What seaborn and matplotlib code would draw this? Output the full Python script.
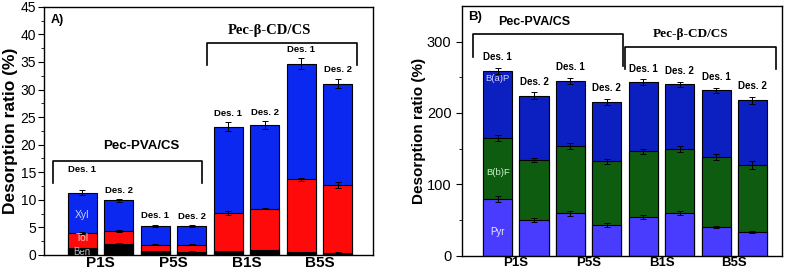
import numpy as np
import pandas as pd
import matplotlib
matplotlib.use("Agg")
import matplotlib.pyplot as plt
import seaborn as sns

# ---- data ----
groups = ['P1S', 'P5S', 'B1S', 'B5S']
des_labels = ['Des. 1', 'Des. 2'] * 4

# panel A: BTEX-like (stacked segments)
ben = [1.2, 2.0, 0.65, 0.6, 0.65, 0.9, 0.5, 0.45]
tol = [2.8, 2.4, 1.25, 1.3, 7.0, 7.5, 13.25, 12.25]
xyl = [7.3, 5.55, 3.4, 3.3, 15.65, 15.15, 20.95, 18.4]
ben_err = [0.1, 0.1, 0.05, 0.05, 0.05, 0.05, 0.05, 0.05]
tol_err = [0.2, 0.15, 0.1, 0.1, 0.4, 0.1, 0.3, 0.6]
xyl_err = [0.4, 0.25, 0.2, 0.15, 0.8, 0.75, 1.0, 0.9]

# panel B: PAHs (stacked segments)
pyr = [79.5, 50, 59, 42.6, 54, 60, 40, 33]
bbf = [85.5, 84, 94.5, 89.4, 92, 89, 98, 94]
bap = [94, 90, 91.5, 83.7, 97, 91, 93.6, 91]
pyr_err = [4, 3, 3, 3, 3, 3, 2, 2]
bbf_err = [4, 3, 4, 4, 4, 4, 4, 5]
bap_err = [4, 5, 4, 4, 4, 4, 4, 5]

bar_ids = [f'{g}-{d}' for g in groups for d in ('1', '2')]

plt.rcParams['font.family'] = ['Liberation Sans', 'DejaVu Sans']


def stacked(ax, segs, errs, colors):
    cum = np.cumsum(np.array(segs), axis=0)
    df = pd.DataFrame({'bar': bar_ids})
    # draw from the total down so lower segments sit on top
    for i in reversed(range(len(segs))):
        df['y'] = cum[i]
        sns.barplot(data=df, x='bar', y='y', order=bar_ids, color=colors[i],
                    saturation=1, width=0.8, edgecolor='black', linewidth=0.8,
                    errorbar=None, ax=ax)
    for i in range(len(segs)):
        ax.errorbar(np.arange(len(bar_ids)), cum[i], yerr=errs[i], fmt='none',
                    ecolor='black', elinewidth=0.7, capsize=2.5, capthick=0.7, zorder=5)
    return cum[-1] + np.array(errs[-1])


def bracket(ax, x0, x1, ytop, yl, yr, lw=1.2):
    ax.plot([x0, x0, x1, x1], [yl, ytop, ytop, yr], color='black', lw=lw, clip_on=False)


fig = plt.figure(figsize=(7.91, 2.70), dpi=100)

# ---- panel A ----
axA = fig.add_axes([0.0556, 0.0556, 0.416, 0.919])
tops = stacked(axA, [ben, tol, xyl], [ben_err, tol_err, xyl_err],
               ['#000000', '#ff0a0a', '#0a28f0'])
axA.set_ylim(0, 45)
axA.set_xlim(-1.05, 7.97)
axA.set_yticks(np.arange(0, 46, 5))
axA.set_yticks(np.arange(0, 45, 2.5), minor=True)
axA.tick_params(axis='y', which='major', labelsize=10, length=4, direction='out', pad=1.5)
axA.tick_params(axis='y', which='minor', length=2.5)
axA.set_xticks([0.5, 2.5, 4.5, 6.5])
axA.set_xticklabels(groups, fontweight='bold', fontsize=11)
axA.tick_params(axis='x', length=0, pad=1)
axA.set_xlabel('')
axA.set_ylabel('Desorption ratio (%)', fontsize=12.5, fontweight='bold', labelpad=2)
offsA = [12, 3, 3, 3, 3, 3, 3, 3]
for i, (t, lab) in enumerate(zip(tops, des_labels)):
    axA.annotate(lab, (i, t), xytext=(0, offsA[i]), textcoords='offset points',
                 ha='center', va='bottom', fontsize=6.8, fontweight='bold')
axA.text(0, 7.2, 'Xyl', color='#c8d0ff', ha='center', va='center', fontsize=7.5)
axA.text(0, 3.0, 'Tol', color='#ffc0c0', ha='center', va='center', fontsize=7.5)
axA.text(0, 0.55, 'Ben', color='#bbbbbb', ha='center', va='center', fontsize=7)
axA.text(0.02, 0.97, 'A)', transform=axA.transAxes, fontsize=9, fontweight='bold',
         ha='left', va='top')
bracket(axA, -0.8, 3.29, 17.0, 13.0, 13.0)
axA.text(1.62, 19.7, 'Pec-PVA/CS', ha='center', va='center', fontsize=9.5, fontweight='bold')
bracket(axA, 3.42, 7.53, 38.5, 34.5, 34.5)
axA.text(5.12, 40.7, 'Pec-β-CD/CS', ha='center', va='center', fontsize=10.5,
         fontweight='bold', family=['Liberation Serif', 'DejaVu Serif'])

# ---- panel B ----
axB = fig.add_axes([0.584, 0.0537, 0.4046, 0.924])
tops = stacked(axB, [pyr, bbf, bap], [pyr_err, bbf_err, bap_err],
               ['#4a3cff', '#0e5c10', '#0c1fc0'])
axB.set_ylim(0, 350)
axB.set_xlim(-0.98, 7.81)
axB.set_yticks([0, 100, 200, 300])
axB.set_yticks(np.arange(0, 350, 50), minor=True)
axB.tick_params(axis='y', which='major', labelsize=10.5, length=4, direction='out')
axB.tick_params(axis='y', which='minor', length=2.5)
axB.set_xticks([0.5, 2.5, 4.5, 6.5])
axB.set_xticklabels(groups, fontweight='bold', fontsize=9.5)
axB.tick_params(axis='x', length=0, pad=1)
axB.set_xlabel('')
axB.set_ylabel('Desorption ratio (%)', fontsize=11, fontweight='bold', labelpad=1)
for i, (t, lab) in enumerate(zip(tops, des_labels)):
    axB.annotate(lab, (i, t), xytext=(0, 4), textcoords='offset points',
                 ha='center', va='bottom', fontsize=7, fontweight='bold')
axB.text(0, 248, 'B(a)P', color='#d0d0ff', ha='center', va='center', fontsize=6.8)
axB.text(0, 116, 'B(b)F', color='#c8f5c8', ha='center', va='center', fontsize=6.8)
axB.text(0, 33, 'Pyr', color='#e8e8ff', ha='center', va='center', fontsize=7)
axB.text(0.02, 0.98, 'B)', transform=axB.transAxes, fontsize=9.5, fontweight='bold',
         ha='left', va='top')
bracket(axB, -0.67, 3.45, 311, 279, 266)
axB.text(1.0, 328, 'Pec-PVA/CS', ha='center', va='center', fontsize=9, fontweight='bold')
bracket(axB, 3.5, 7.65, 293, 261, 261)
axB.text(5.29, 311, 'Pec-β-CD/CS', ha='center', va='center', fontsize=9.5,
         fontweight='bold', family=['Liberation Serif', 'DejaVu Serif'])

for ax in (axA, axB):
    for s in ax.spines.values():
        s.set_linewidth(1.0)

fig.savefig('out.png', dpi=100)
